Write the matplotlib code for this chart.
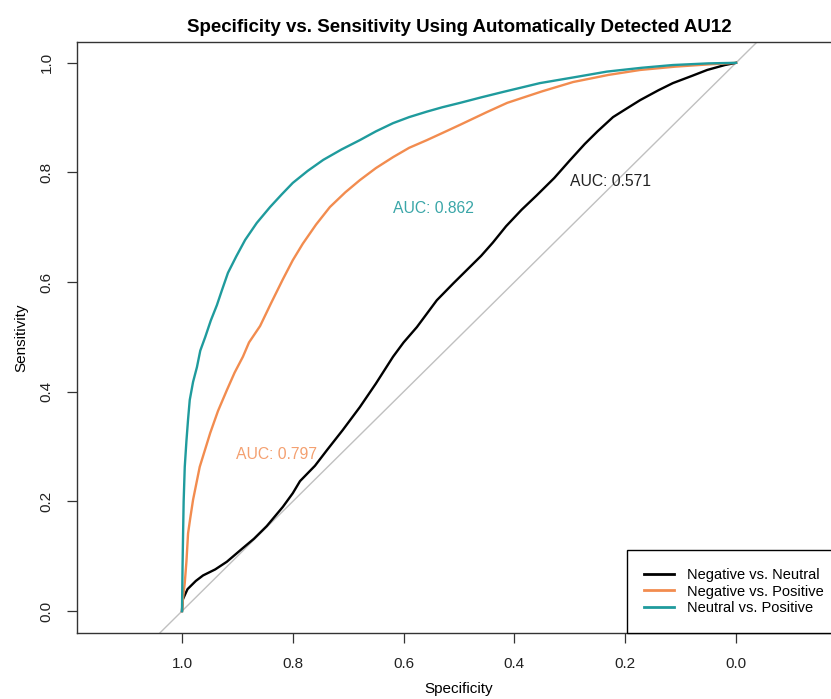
import matplotlib.pyplot as plt

plt.rcParams['font.family'] = ['Liberation Sans', 'DejaVu Sans']

# ROC curves (specificity, sensitivity)
neg_neu_spec = [1.0, 0.999, 0.99, 0.975, 0.962, 0.94, 0.919, 0.89, 0.87, 0.847, 0.818, 0.8, 0.787,
                0.76, 0.738, 0.71, 0.679, 0.65, 0.619, 0.6, 0.576, 0.54, 0.51, 0.486, 0.46, 0.439,
                0.415, 0.387, 0.36, 0.328, 0.3, 0.273, 0.25, 0.222, 0.2, 0.173, 0.14, 0.114, 0.08,
                0.052, 0.02, 0.0]
neg_neu_sens = [0.0, 0.02, 0.04, 0.055, 0.065, 0.076, 0.09, 0.115, 0.132, 0.155, 0.19, 0.215, 0.237,
                0.265, 0.294, 0.33, 0.372, 0.415, 0.464, 0.49, 0.518, 0.567, 0.598, 0.622, 0.648,
                0.672, 0.702, 0.732, 0.758, 0.79, 0.822, 0.852, 0.875, 0.901, 0.915, 0.932, 0.95,
                0.963, 0.976, 0.987, 0.996, 1.0]

neg_pos_spec = [1.0, 0.998, 0.995, 0.992, 0.989, 0.985, 0.98, 0.968, 0.949, 0.935, 0.919, 0.905,
                0.89, 0.879, 0.859, 0.84, 0.818, 0.8, 0.782, 0.758, 0.733, 0.705, 0.679, 0.65, 0.619,
                0.59, 0.558, 0.53, 0.498, 0.45, 0.413, 0.35, 0.294, 0.23, 0.173, 0.11, 0.052, 0.0]
neg_pos_sens = [0.0, 0.025, 0.051, 0.09, 0.142, 0.17, 0.203, 0.263, 0.325, 0.365, 0.403, 0.435,
                0.464, 0.49, 0.52, 0.56, 0.605, 0.64, 0.67, 0.705, 0.737, 0.764, 0.786, 0.808, 0.828,
                0.845, 0.859, 0.872, 0.887, 0.91, 0.927, 0.948, 0.965, 0.978, 0.987, 0.993, 0.997, 1.0]

neu_pos_spec = [1.0, 0.9995, 0.999, 0.998, 0.997, 0.995, 0.992, 0.989, 0.986, 0.98, 0.973, 0.967,
                0.958, 0.948, 0.937, 0.928, 0.917, 0.902, 0.886, 0.865, 0.841, 0.82, 0.8, 0.773,
                0.745, 0.712, 0.679, 0.65, 0.619, 0.59, 0.558, 0.53, 0.498, 0.46, 0.42, 0.354, 0.29,
                0.233, 0.17, 0.114, 0.05, 0.0]
neu_pos_sens = [0.0, 0.04, 0.08, 0.142, 0.2, 0.263, 0.31, 0.35, 0.385, 0.418, 0.445, 0.475,
                0.5, 0.53, 0.558, 0.585, 0.617, 0.647, 0.677, 0.708, 0.737, 0.76, 0.781, 0.803,
                0.823, 0.842, 0.859, 0.875, 0.89, 0.901, 0.911, 0.919, 0.927, 0.937, 0.947, 0.963,
                0.974, 0.984, 0.991, 0.996, 0.999, 1.0]

labels = ['Negative vs. Neutral', 'Negative vs. Positive', 'Neutral vs. Positive']
colors = ['black', '#f28c4f', '#1f9b9d']
auc_text = ['AUC: 0.571', 'AUC: 0.797', 'AUC: 0.862']
auc_pos = [(0.227, 0.783), (0.829, 0.285), (0.547, 0.735)]
text_colors = ['#222222', '#f4a070', '#3aa6a8']

fig = plt.figure(figsize=(8.31, 6.99), dpi=100)
ax = fig.add_axes([77 / 831, 1 - 633 / 699, (841 - 77) / 831, (633 - 42) / 699])

ax.axline((1, 0), (0, 1), color='#c0c0c0', lw=1)

curves = [(neg_neu_spec, neg_neu_sens), (neg_pos_spec, neg_pos_sens), (neu_pos_spec, neu_pos_sens)]
for (sp, se), lab, c in zip(curves, labels, colors):
    ax.plot(sp, se, color=c, lw=1.7, label=lab)

for txt, (x, y), c in zip(auc_text, auc_pos, text_colors):
    ax.text(x, y, txt, color=c, fontsize=11.3, ha='center', va='center')

ax.set_xlim(1.1895, -0.1895)
ax.set_ylim(-0.040, 1.038)
ax.set_xticks([1.0, 0.8, 0.6, 0.4, 0.2, 0.0])
ax.set_xticklabels(['1.0', '0.8', '0.6', '0.4', '0.2', '0.0'])
ax.set_yticks([0.0, 0.2, 0.4, 0.6, 0.8, 1.0])
ax.set_yticklabels(['0.0', '0.2', '0.4', '0.6', '0.8', '1.0'], rotation=90, va='center')
ax.tick_params(direction='out', length=7, width=0.9, labelsize=11, pad=10, colors='#333333')
ax.tick_params(axis='x', labelcolor='#222222')
ax.tick_params(axis='y', labelcolor='#222222')
for s in ax.spines.values():
    s.set_color('#333333')
    s.set_linewidth(1.0)

ax.set_xlabel('Specificity', fontsize=11, labelpad=8)
ax.set_ylabel('Sensitivity', fontsize=11, labelpad=8)
ax.set_title('Specificity vs. Sensitivity Using Automatically Detected AU12',
             fontsize=13.5, fontweight='bold', pad=7)

leg = ax.legend(loc='lower right', borderaxespad=0, fontsize=10.5, fancybox=False,
                edgecolor='black', framealpha=1, handlelength=2.0, borderpad=1.2,
                labelspacing=0.2, handletextpad=0.9)
leg.get_frame().set_linewidth(1.0)
for line in leg.get_lines():
    line.set_linewidth(2)

fig.savefig('out.png', dpi=100)
